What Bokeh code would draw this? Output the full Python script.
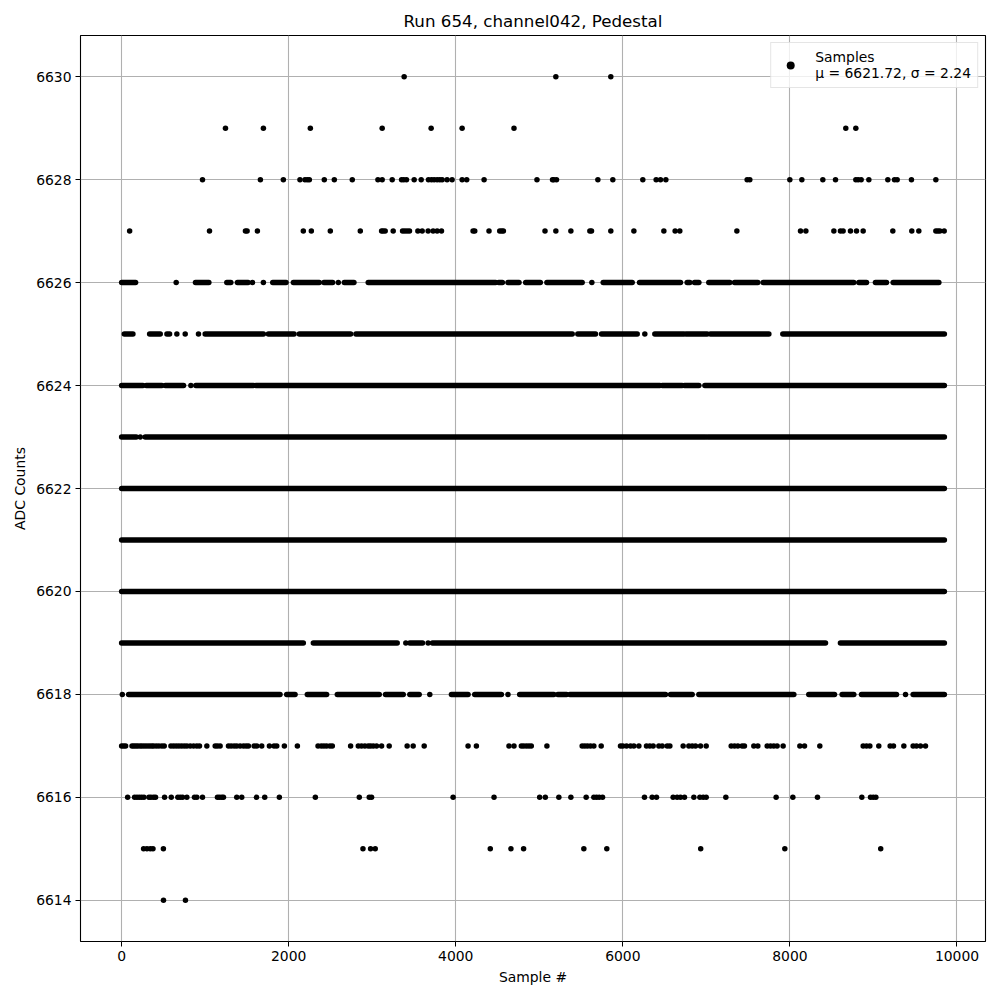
from bokeh.plotting import figure
from bokeh.models import Range1d, FixedTicker, Legend, LegendItem, ColumnDataSource
from bokeh.embed import file_html
from bokeh.resources import INLINE

# ---- data (sample numbers) ----
first_sample = 0
last_sample = 9849

x_ticks = [0, 2000, 4000, 6000, 8000, 10000]
y_ticks = [6614, 6616, 6618, 6620, 6622, 6624, 6626, 6628, 6630]

# levels where samples appear individually: sample numbers
pts_6630 = [3382, 5198, 5856]
pts_6629 = [1243, 1697, 2259, 3119, 3705, 4076, 4697, 8669, 8789]
pts_6628 = [968, 1661, 1936, 2135, 2195, 2223, 2247, 2426, 2546, 2761, 3068, 3119,
            3239, 3351, 3378, 3410, 3502, 3586, 3673, 3709, 3741, 3777, 3809, 3837,
            3896, 3956, 4076, 4131, 4339, 4972, 5158, 5174, 5206, 5701, 5880, 6239,
            6399, 6451, 6515, 7488, 7520, 7999, 8143, 8394, 8546, 8789, 8817, 8853,
            8945, 9172, 9252, 9284, 9455, 9747]
pts_6627 = [96, 1052, 1482, 1502, 1625, 2175, 2271, 2498, 2857, 3112, 3131, 3155,
            3251, 3363, 3390, 3418, 3446, 3546, 3598, 3669, 3729, 3777, 3829, 4207,
            4227, 4398, 4526, 4550, 4570, 5068, 5198, 5378, 5605, 5625, 5856, 6132,
            6491, 6626, 6682, 7365, 8127, 8191, 8526, 8605, 8637, 8725, 8797, 8877,
            9232, 9459, 9543, 9747, 9771, 9795, 9847]
pts_6617 = [0, 24, 48, 124, 147, 171, 195, 223, 247, 275, 303, 331, 359, 382, 414,
            446, 482, 510, 590, 622, 653, 685, 717, 749, 781, 821, 861, 900, 932,
            1020, 1120, 1147, 1179, 1279, 1311, 1347, 1378, 1418, 1458, 1490, 1518,
            1586, 1618, 1677, 1769, 1825, 1857, 1948, 2104, 2351, 2390, 2422, 2454,
            2494, 2522, 2741, 2833, 2872, 2912, 2952, 2980, 3012, 3052, 3112, 3203,
            3418, 3490, 3622, 4147, 4247, 4637, 4697, 4785, 4813, 4845, 4876, 4904,
            5091, 5513, 5545, 5577, 5613, 5653, 5741, 5972, 6000, 6044, 6092, 6132,
            6192, 6283, 6323, 6363, 6431, 6471, 6531, 6563, 6722, 6790, 6830, 6870,
            6930, 6998, 7297, 7337, 7377, 7428, 7456, 7568, 7616, 7728, 7768, 7807,
            7847, 7919, 8119, 8175, 8358, 8877, 8917, 8957, 9064, 9200, 9240, 9364,
            9475, 9515, 9563, 9623]
pts_6616 = [72, 155, 183, 211, 239, 267, 327, 351, 382, 406, 514, 594, 673, 701,
            729, 781, 872, 900, 968, 1147, 1171, 1199, 1219, 1378, 1438, 1614, 1713,
            1888, 2319, 2845, 2964, 2992, 3968, 4458, 5004, 5072, 5234, 5378, 5561,
            5653, 5685, 5717, 5757, 6259, 6351, 6403, 6602, 6650, 6690, 6738, 6850,
            6922, 6962, 6998, 7233, 7835, 8035, 8330, 8861, 8965, 8997, 9029]
pts_6615 = [263, 303, 343, 375, 500, 2889, 2980, 3036, 4413, 4660, 4812, 5533,
            5808, 6932, 7939, 9087]
pts_6614 = [501, 764]

# levels where consecutive samples form unbroken runs: (first, last) sample
runs_6626 = [(0, 167), (653, 653), (884, 1044), (1259, 1307), (1386, 1514), (1566, 1566),
             (1697, 1697), (1809, 1968), (2056, 2366), (2422, 2526), (2594, 2594),
             (2666, 2781), (2952, 4478), (4514, 4558), (4625, 4757), (4837, 5012),
             (5091, 5513), (5629, 5629), (5765, 6112), (6200, 6690), (6770, 6802),
             (6858, 6910), (7029, 7281), (7337, 7616), (7680, 8765), (8825, 8917),
             (9024, 9156), (9236, 9783)]
runs_6625 = [(32, 135), (335, 462), (542, 574), (661, 661), (761, 761), (920, 920),
             (1000, 1697), (1757, 2064), (2127, 2741), (2805, 5394), (5461, 5673),
             (5745, 6172), (6263, 6263), (6383, 6730), (6758, 7009), (7049, 7748),
             (7915, 9849)]
runs_6624 = [(0, 255), (295, 482), (522, 741), (829, 829), (888, 1578), (1606, 6443),
             (6471, 6710), (6738, 6910), (6982, 9849)]
runs_6623 = [(0, 175), (223, 223), (283, 6990), (7017, 9849)]
runs_6622 = [(0, 9849)]
runs_6621 = [(0, 9849)]
runs_6620 = [(0, 9849)]
runs_6619 = [(0, 2175), (2295, 3299), (3402, 3402), (3450, 3602), (3669, 3669),
             (3721, 8426), (8605, 9849)]
runs_6618 = [(8, 8), (84, 1896), (1976, 2076), (2223, 2454), (2582, 3084), (3159, 3371),
             (3450, 3562), (3689, 3689), (3948, 4147), (4227, 4546), (4625, 4625),
             (4765, 5174), (5222, 5326), (5366, 6511), (6571, 6830), (6910, 8047),
             (8226, 8534), (8625, 8765), (8857, 9276), (9384, 9384), (9475, 9849)]

legend_label = "Samples\nμ = 6621.72, σ = 2.24"
title_text = "Run 654, channel042, Pedestal"

# ---- build sources ----
point_levels = {6630: pts_6630, 6629: pts_6629, 6628: pts_6628, 6627: pts_6627,
                6617: pts_6617, 6616: pts_6616, 6615: pts_6615, 6614: pts_6614}
run_levels = {6626: runs_6626, 6625: runs_6625, 6624: runs_6624, 6623: runs_6623,
              6622: runs_6622, 6621: runs_6621, 6620: runs_6620, 6619: runs_6619,
              6618: runs_6618}

px, py = [], []
for lvl, xs in point_levels.items():
    px += xs
    py += [lvl] * len(xs)
sx0, sx1, sy = [], [], []
for lvl, rs in run_levels.items():
    for a, b in rs:
        if a == b:
            px.append(a)
            py.append(lvl)
        else:
            sx0.append(a)
            sx1.append(b)
            sy.append(lvl)

pad_x = 0.05 * (last_sample - first_sample)
y_lo, y_hi = min(y_ticks), max(y_ticks)
pad_y = 0.05 * (y_hi - y_lo)

FONT = "DejaVu Sans"

p = figure(width=992, height=992, output_backend="svg", toolbar_location=None,
           x_range=Range1d(first_sample - pad_x, last_sample + pad_x),
           y_range=Range1d(y_lo - pad_y, y_hi + pad_y),
           min_border_left=80, min_border_right=7, min_border_top=35,
           min_border_bottom=51)

p.title.text = title_text
p.title.align = "center"
p.title.text_font = FONT
p.title.text_font_style = "normal"
p.title.text_font_size = "16.7px"
p.title.text_color = "black"

seg_src = ColumnDataSource(dict(x0=sx0, x1=sx1, y=sy))
p.segment(x0="x0", y0="y", x1="x1", y1="y", source=seg_src,
          line_color="black", line_width=5.5, line_cap="round")
pt_src = ColumnDataSource(dict(x=px, y=py))
r_pts = p.scatter(x="x", y="y", source=pt_src, size=5.5,
                  fill_color="black", line_color="black", line_width=0)

for ax in (p.xaxis[0], p.yaxis[0]):
    ax.axis_line_color = None
    ax.major_tick_in = 0
    ax.major_tick_out = 5
    ax.major_tick_line_color = "black"
    ax.minor_tick_in = 0
    ax.minor_tick_out = 0
    ax.major_label_text_font = FONT
    ax.major_label_text_font_size = "13.9px"
    ax.major_label_text_color = "black"
    ax.axis_label_text_font = FONT
    ax.axis_label_text_font_size = "13.9px"
    ax.axis_label_text_font_style = "normal"
    ax.axis_label_text_color = "black"
    ax.major_label_standoff = 4

p.xaxis.ticker = FixedTicker(ticks=x_ticks)
p.yaxis.ticker = FixedTicker(ticks=y_ticks)
p.xaxis.axis_label = "Sample #"
p.yaxis.axis_label = "ADC Counts"

p.grid.grid_line_color = "#b0b0b0"
p.grid.grid_line_width = 1.1
p.outline_line_color = "black"
p.outline_line_width = 1.1

legend = Legend(items=[LegendItem(label=legend_label, renderers=[r_pts])],
                location="top_right")
legend.label_text_font = FONT
legend.label_text_font_size = "13.9px"
legend.label_text_color = "black"
legend.border_line_color = "#cccccc"
legend.border_line_width = 1
legend.background_fill_alpha = 0.8
legend.margin = 7
legend.padding = 6
legend.glyph_width = 26
legend.label_standoff = 12
p.add_layout(legend)

open("out.html", "w").write(file_html(p, INLINE))
